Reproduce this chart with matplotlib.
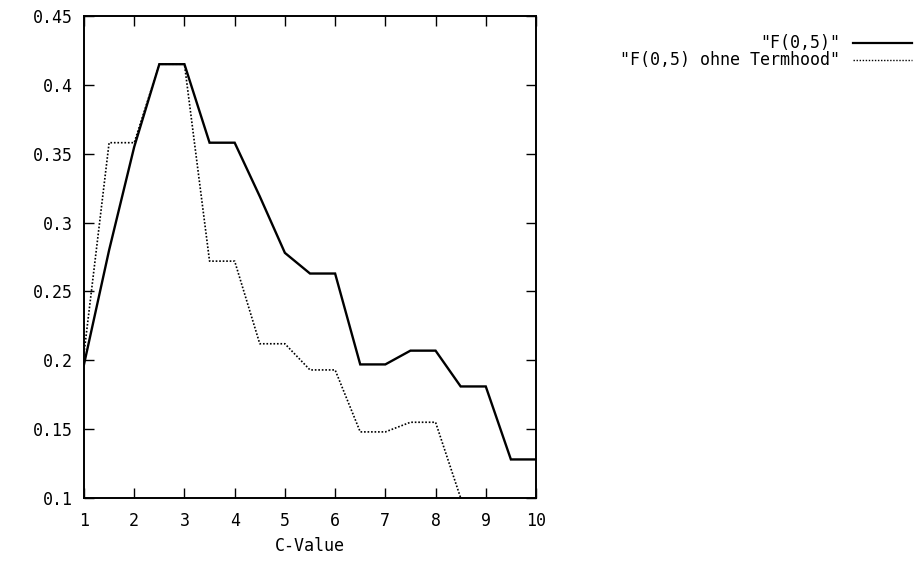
import matplotlib
matplotlib.use("Agg")
import matplotlib.pyplot as plt
from matplotlib.lines import Line2D

# ---- data ----
c_values = [1, 1.5, 2, 2.5, 3, 3.5, 4, 4.5, 5, 5.5, 6, 6.5, 7, 7.5, 8, 8.5, 9, 9.5, 10]
f05 = [0.197, 0.28, 0.355, 0.415, 0.415, 0.358, 0.358, 0.319, 0.278, 0.263, 0.263,
       0.197, 0.197, 0.207, 0.207, 0.181, 0.181, 0.128, 0.128]
c_values_ohne = [1, 1.5, 2, 2.5, 3, 3.5, 4, 4.5, 5, 5.5, 6, 6.5, 7, 7.5, 8, 8.5]
f05_ohne = [0.205, 0.358, 0.358, 0.415, 0.415, 0.272, 0.272, 0.212, 0.212, 0.193, 0.193,
            0.148, 0.148, 0.155, 0.155, 0.100]
series_names = ['"F(0,5)"', '"F(0,5) ohne Termhood"']
x_ticks = [1, 2, 3, 4, 5, 6, 7, 8, 9, 10]
y_ticks = [0.1, 0.15, 0.2, 0.25, 0.3, 0.35, 0.4, 0.45]
y_tick_labels = ["0.1", "0.15", "0.2", "0.25", "0.3", "0.35", "0.4", "0.45"]
x_label = "C-Value"

W, H = 924, 562
fig = plt.figure(figsize=(W / 100, H / 100), dpi=100)
plt.rcParams['font.family'] = ['DejaVu Sans Mono']
FS = 12

left, right, top, bottom = 84, 536, 16, 498
ax = fig.add_axes([left / W, 1 - bottom / H, (right - left) / W, (bottom - top) / H])

ax.plot(c_values, f05, color="black", lw=1.7, solid_joinstyle="miter")
ax.plot(c_values_ohne, f05_ohne, color="black", lw=1.2, linestyle=(0, (1, 1.1)))

ax.set_xlim(1, 10)
ax.set_ylim(0.1, 0.45)
ax.set_xticks(x_ticks)
ax.set_xticklabels([str(t) for t in x_ticks], fontsize=FS, family="DejaVu Sans Mono")
ax.set_yticks(y_ticks)
ax.set_yticklabels(y_tick_labels, fontsize=FS, family="DejaVu Sans Mono")
ax.tick_params(direction="in", length=7.2, width=1.0, top=True, right=True,
               pad=8, colors="black")
ax.tick_params(axis="x", pad=10)
for s in ax.spines.values():
    s.set_linewidth(1.4)
ax.set_xlabel(x_label, fontsize=FS, family="DejaVu Sans Mono", labelpad=5)

# legend (gnuplot style: right-aligned text, sample line to the right)
rows_y = [43, 60]
styles = [dict(color="black", lw=1.6), dict(color="black", lw=1.0, linestyle=(0, (1, 1.2)))]
for name, yy, st in zip(series_names, rows_y, styles):
    fig.text(840 / W, 1 - yy / H, name, ha="right", va="center", fontsize=FS,
             family="DejaVu Sans Mono")
    fig.add_artist(Line2D([853 / W, 912 / W], [1 - yy / H, 1 - yy / H],
                          transform=fig.transFigure, **st))

fig.savefig("out.png", dpi=100)
